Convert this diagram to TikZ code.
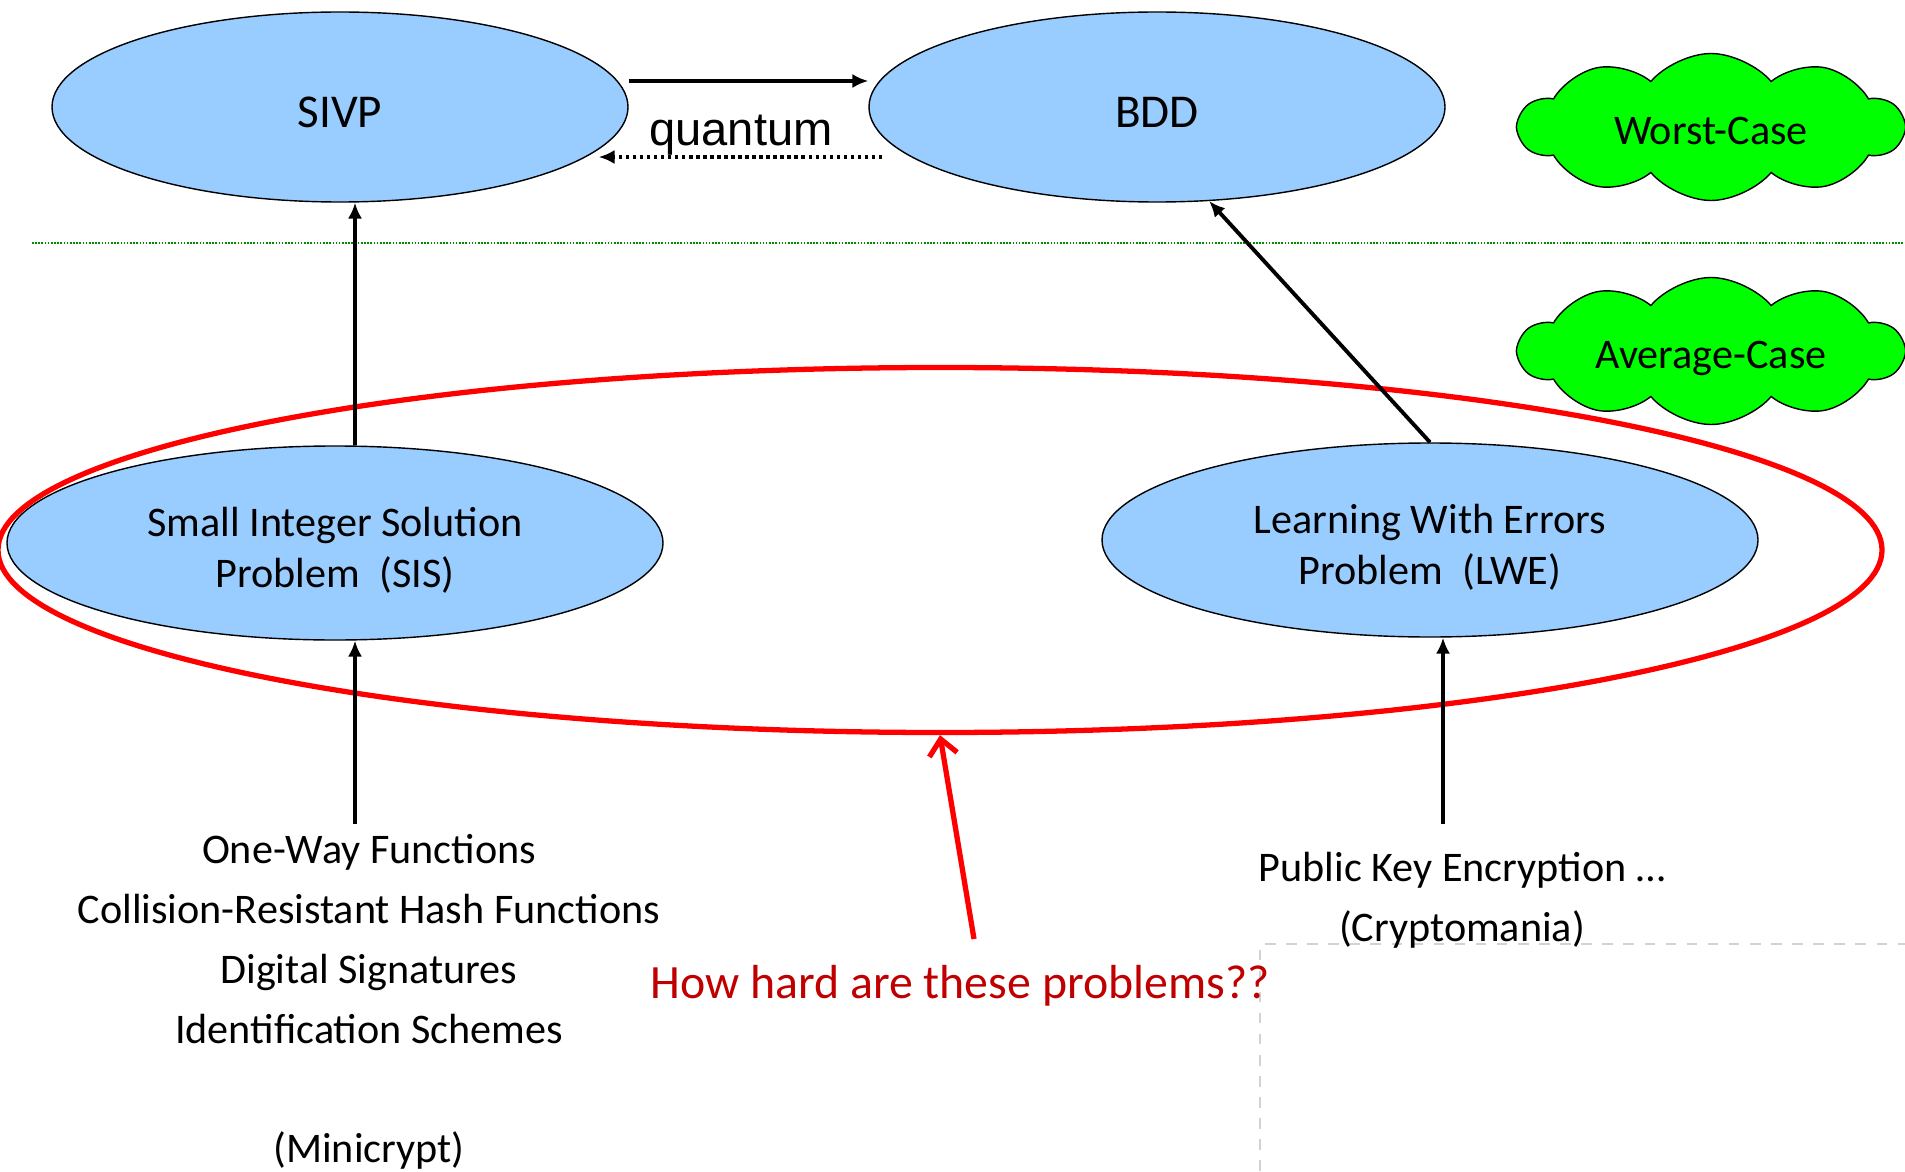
\documentclass[tikz,border=0pt]{standalone}
\usepackage{fontspec}
\setmainfont{Carlito}
\newfontfamily\arialfont{Liberation Sans}
\usetikzlibrary{shapes.geometric,shapes.symbols,arrows.meta}
\definecolor{probblue}{RGB}{153,204,255}
\definecolor{darkred}{RGB}{192,0,0}
\definecolor{linegreen}{RGB}{0,140,0}

\begin{document}
\begin{tikzpicture}[
  worstprob/.style={ellipse,draw,fill=probblue,inner sep=0pt,minimum width=5.76cm,minimum height=1.90cm,text height=11.4pt,text depth=0pt,font=\fontsize{13.4}{16}\selectfont},
  avgprob/.style={ellipse,draw,fill=probblue,inner sep=0pt,minimum width=6.56cm,minimum height=1.94cm,align=center,text height=25.5pt,text depth=0pt,font=\fontsize{12}{14.5}\selectfont},
  casecloud/.style={cloud,cloud puffs=10,cloud puff arc=100,aspect=2.6,draw,fill=green,inner sep=0pt,minimum width=3.84cm,minimum height=1.47cm,text height=10pt,text depth=0pt,font=\fontsize{12}{14}\selectfont},
  arr/.style={-{Latex[length=4.5pt,width=4pt]},line width=1.1pt},
  usetext/.style={align=center,anchor=north,inner sep=0pt,font=\fontsize{12}{17}\selectfont}
]
\useasboundingbox (0,0) rectangle (19.05,11.71);
\draw [gray!35,dashed,line width=0.3pt] (12.60,0) -- (12.60,2.27) -- (19.05,2.27);
\draw [linegreen,line width=0.55pt,dash pattern=on 0.45pt off 0.45pt] (0.32,9.28) -- (19.05,9.28);

\node [worstprob] (sivp) at (3.40,10.64) {SIVP};
\node [worstprob] (bdd) at (11.57,10.64) {BDD};
\node [avgprob] (sis) at (3.35,6.28) {Small Integer Solution\\Problem~~(SIS)};
\node [avgprob] (lwe) at (14.30,6.31) {Learning With Errors\\Problem~~(LWE)};
\node [casecloud] (worst) at (17.11,10.44) {\makebox[1.94cm]{Worst-Case}};
\node [casecloud] (avg) at (17.11,8.20) {\makebox[1.94cm]{Average-Case}};
\node [ellipse,draw=red,line width=1.5pt,inner sep=0pt,minimum width=18.84cm,minimum height=3.65cm] (hard) at (9.40,6.21) {};

\draw [arr] ([yshift=0.26cm]sivp.east) -- ([yshift=0.26cm]bdd.west);
\draw [arr,dash pattern=on 1pt off 1pt] ([xshift=0.14cm,yshift=-0.5cm]bdd.west) -- ([xshift=-0.3cm,yshift=-0.5cm]sivp.east);
\node [font=\arialfont\fontsize{13.4}{16}\selectfont,inner sep=0pt] (quant) at (7.41,10.36) {quantum};

\node [usetext] (mini) at (3.69,3.37) {One-Way Functions\\Collision-Resistant Hash Functions\\Digital Signatures\\Identification Schemes\\[17pt](Minicrypt)};
\node [usetext] (crypto) at (14.62,3.19) {Public Key Encryption …\\(Cryptomania)};
\node [text=darkred,inner sep=0pt,font=\fontsize{13.6}{16}\selectfont] (howhard) at (9.60,1.85) {How hard are these problems??};

\coordinate (minitop) at (3.55,3.47);
\coordinate (cryptotop) at (14.43,3.47);
\coordinate (howtop) at (9.74,2.32);

\draw [arr] (minitop) -- (minitop |- sis.south);
\draw [arr] ([xshift=0.2cm]sis.north) -- ([xshift=0.15cm]sivp.south);
\draw [arr] (cryptotop) -- (cryptotop |- lwe.south);
\draw [arr] (lwe.north) -- (bdd.-61);
\draw [red,line width=1.5pt,-{Straight Barb[length=4.5pt,width=8pt]}] (howtop) -- (hard.south);
\end{tikzpicture}
\end{document}
